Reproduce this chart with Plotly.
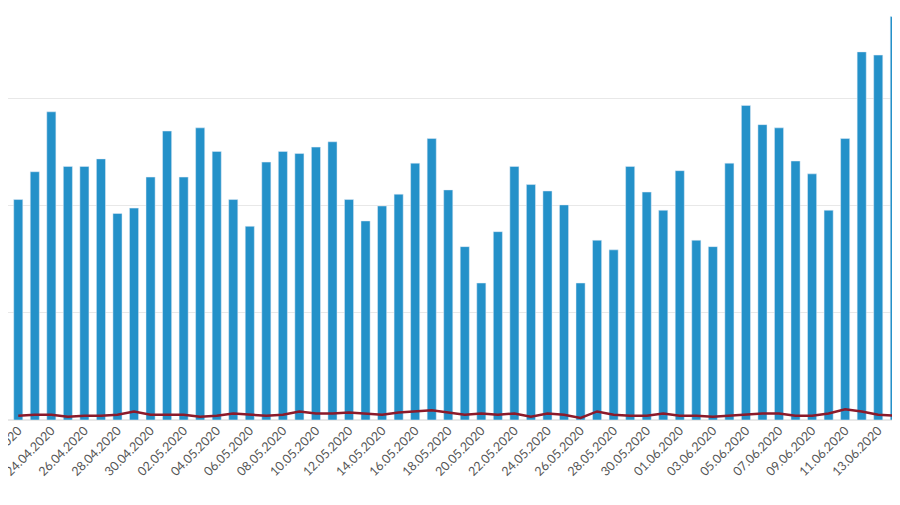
import plotly.graph_objects as go
from datetime import date, timedelta

start = date(2020, 4, 22)
days = [(start + timedelta(days=i)).strftime("%d.%m.%Y") for i in range(55)]

# daily totals (bars)
cases = [206, 232, 288, 237, 237, 244, 193, 198, 227, 270, 227, 273, 251, 206, 181, 241,
         251, 249, 255, 260, 206, 186, 200, 211, 240, 263, 215, 162, 128, 176, 237, 220,
         214, 201, 128, 168, 159, 237, 213, 196, 233, 168, 162, 240, 294, 276, 273, 242,
         230, 196, 263, 344, 341, 377, 323]
# secondary series (line)
deaths = [4, 5, 5, 3, 4, 4, 5, 8, 5, 5, 5, 3, 4, 6, 5, 4, 5, 8, 6, 6, 7, 6, 5, 7, 8,
          9, 7, 5, 6, 5, 6, 3, 6, 5, 2, 8, 5, 4, 4, 6, 4, 4, 3, 4, 5, 6, 6, 4, 4, 6, 10,
          8, 5, 4, 4]

fig = go.Figure()
fig.add_trace(go.Bar(x=days, y=cases, marker_color="#2491c9", width=0.55, name="Fälle"))
fig.add_trace(go.Scatter(x=days, y=deaths, mode="lines", line=dict(color="#8b1a2a", width=2.5),
                         name="Todesfälle"))

fig.update_layout(
    width=900, height=505,
    margin=dict(l=0, r=0, t=0, b=93),
    plot_bgcolor="white", paper_bgcolor="white",
    showlegend=False, bargap=0.4,
    font=dict(family="Lato, sans-serif", color="#555"),
)
fig.update_xaxes(
    type="category", range=[-0.62, 53.8], automargin=False,
    tickvals=days[::2], ticktext=days[::2], tickangle=-45,
    tickfont=dict(size=12.5), showgrid=False, showline=False,
)
fig.update_yaxes(range=[0, 385], dtick=100, showticklabels=False, automargin=False,
                 gridcolor="#e8e8e8", zeroline=True, zerolinecolor="#e8e8e8")

fig.write_html("out.html")
